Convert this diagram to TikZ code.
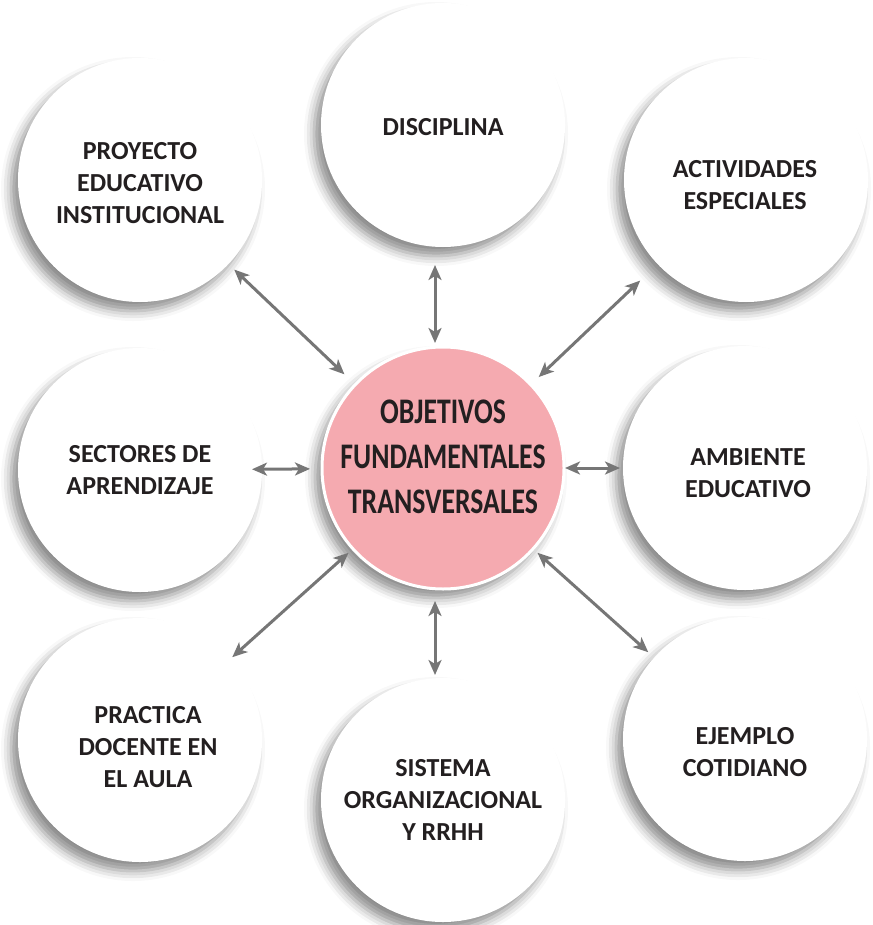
\documentclass[tikz,border=0pt]{standalone}
\usepackage{fontspec}
\newfontfamily\labfont{Carlito}
\newfontfamily\condfont[FakeStretch=0.77]{Carlito}
\usetikzlibrary{shadows.blur,arrows.meta}
\definecolor{pinkfill}{RGB}{245,170,176}
\definecolor{txtcol}{RGB}{35,31,32}
\definecolor{arrgray}{RGB}{118,118,118}
\begin{document}
\begin{tikzpicture}[x=1pt,y=-1pt,
  softshadow/.style={blur shadow={shadow xshift=-7pt, shadow yshift=-9pt, shadow blur radius=10pt, shadow opacity=45}},
  bubble/.style={circle, fill=white, minimum size=244pt, inner sep=0pt, outer sep=0pt, softshadow},
  hub/.style={circle, fill=pinkfill, draw=white, line width=3pt, minimum size=242pt, inner sep=0pt, outer sep=0pt, softshadow},
  hubtext/.style={align=center, text=txtcol, inner sep=0pt, font=\condfont\bfseries\fontsize{36}{45}\selectfont},
  lab/.style={align=center, text=txtcol, inner sep=0pt, font=\labfont\bfseries\fontsize{26}{32}\selectfont},
  link/.style={draw=arrgray, line width=3pt, {Stealth[length=15pt,width=13pt,inset=4pt]}-{Stealth[length=15pt,width=13pt,inset=4pt]}}]
\useasboundingbox (0,0) rectangle (872,925);
% circles
\node[bubble] (proy) at (140,180) {};
\node[bubble] (disc) at (443,125) {};
\node[bubble] (act)  at (746,180) {};
\node[bubble] (sect) at (140,470) {};
\node[bubble] (amb)  at (745,468) {};
\node[bubble] (prac) at (140,740) {};
\node[bubble] (sist) at (443,800) {};
\node[bubble] (ejem) at (745,739) {};
\node[hub] (obj) at (443,468) {};
% labels
\node[hubtext] (objt) at (443,457) {OBJETIVOS\\FUNDAMENTALES\\TRANSVERSALES};
\node[lab] (t1) at (140,183) {PROYECTO\\EDUCATIVO\\INSTITUCIONAL};
\node[lab] (t2) at (443,127) {DISCIPLINA};
\node[lab] (t3) at (745,185) {ACTIVIDADES\\ESPECIALES};
\node[lab] (t4) at (140,470) {SECTORES DE\\APRENDIZAJE};
\node[lab] (t5) at (748,473) {AMBIENTE\\EDUCATIVO};
\node[lab] (t6) at (148,747) {PRACTICA\\DOCENTE EN\\EL AULA};
\node[lab] (t7) at (443,800) {SISTEMA\\ORGANIZACIONAL\\Y RRHH};
\node[lab] (t8) at (745,752) {EJEMPLO\\COTIDIANO};
% connectors
\draw[link, shorten <=8pt, shorten >=15pt] (proy) -- (obj);
\draw[link, shorten <=18pt, shorten >=4pt] ([xshift=-8pt]disc.south) -- ([xshift=-8pt]obj.north);
\draw[link, shorten <=24pt, shorten >=11pt] (act) -- (obj);
\draw[link, shorten <=-10pt, shorten >=12pt] (sect) -- (obj);
\draw[link, shorten <=3pt, shorten >=1pt] (amb) -- (obj);
\draw[link, shorten <=2pt, shorten >=6pt] (prac) -- (obj);
\draw[link, shorten <=3pt, shorten >=12pt] ([xshift=-8pt]sist.north) -- ([xshift=-8pt]obj.south);
\draw[link, shorten <=8pt, shorten >=6pt] (ejem) -- (obj);
\end{tikzpicture}
\end{document}
